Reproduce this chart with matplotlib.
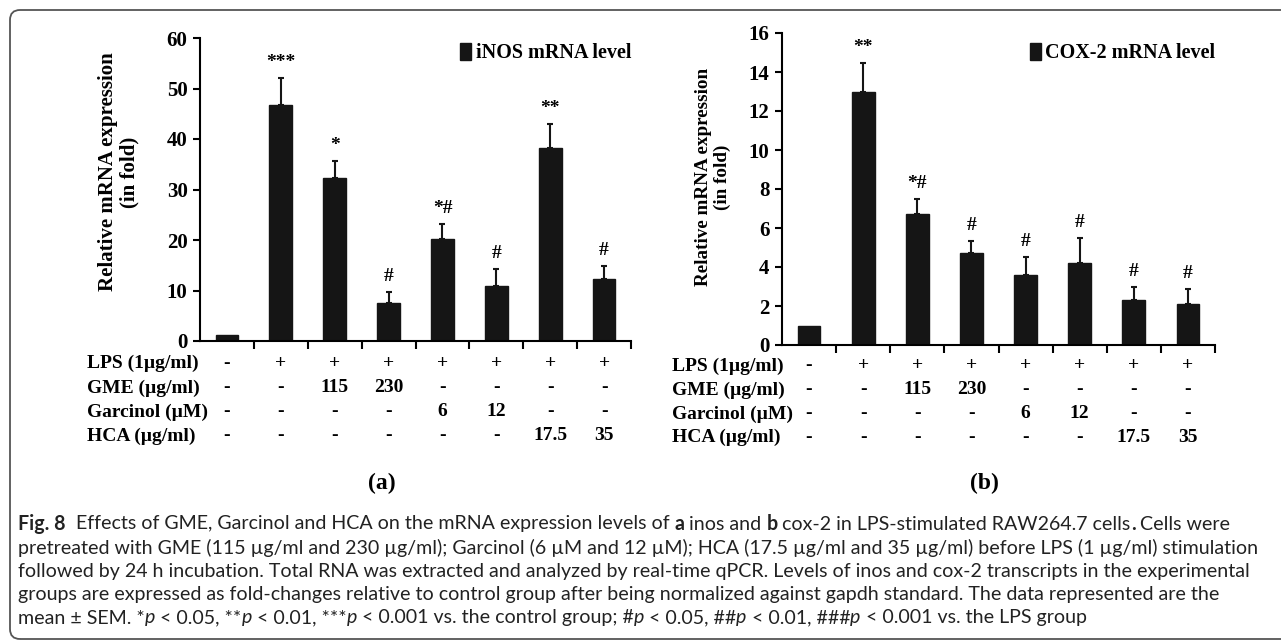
import numpy as np
import matplotlib.pyplot as plt
from matplotlib import font_manager
from matplotlib.patches import FancyBboxPatch
from matplotlib.transforms import blended_transform_factory, IdentityTransform

groups = ['Control', 'LPS', 'GME 115', 'GME 230', 'Garcinol 6', 'Garcinol 12', 'HCA 17.5', 'HCA 35']
inos_mean = [1.2, 46.7, 32.2, 7.5, 20.1, 10.9, 38.3, 12.3]
inos_sem = [0, 5.4, 3.5, 2.3, 3.1, 3.4, 4.7, 2.6]
inos_marks = ['', '***', '*', '#', '*#', '#', '**', '#']
cox2_mean = [1.0, 13.0, 6.7, 4.7, 3.6, 4.2, 2.3, 2.1]
cox2_sem = [0, 1.45, 0.8, 0.65, 0.9, 1.3, 0.7, 0.75]
cox2_marks = ['', '**', '*#', '#', '#', '#', '#', '#']

row_labels = ['LPS (1µg/ml)', 'GME (µg/ml)', 'Garcinol (µM)', 'HCA (µg/ml)']
lps_row = ['-', '+', '+', '+', '+', '+', '+', '+']
gme_row = ['-', '-', '115', '230', '-', '-', '-', '-']
garcinol_row = ['-', '-', '-', '-', '6', '12', '-', '-']
hca_row = ['-', '-', '-', '-', '-', '-', '17.5', '35']
table_rows = [lps_row, gme_row, garcinol_row, hca_row]

W, H = 1281, 642
serif = 'Liberation Serif'
fig = plt.figure(figsize=(W / 100, H / 100), dpi=100)


def panel(box, mean, sem, marks, ymax, ystep, legend, row_y, label_x, ylab, tag):
    x0, x1, ytop, ybot = box
    ax = fig.add_axes([x0 / W, 1 - ybot / H, (x1 - x0) / W, (ybot - ytop) / H])
    x = np.arange(len(mean))
    bars = ax.bar(x, mean, width=0.42, color='#151515', edgecolor='#151515')
    keep = [i for i in x if sem[i] > 0]
    ax.errorbar(x[keep], np.array(mean)[keep], yerr=[np.zeros(len(keep)), np.array(sem)[keep]],
                fmt='none', ecolor='#151515', elinewidth=1.5, capsize=2.5, capthick=1.5)
    for i, m in enumerate(marks):
        if m:
            ax.annotate(m, (i, mean[i] + sem[i]), xytext=(0, 5), textcoords='offset points',
                        ha='center', va='bottom', fontsize=14, fontweight='bold', family=serif)
    ax.set_xlim(-0.5, len(mean) - 0.5)
    ax.set_ylim(0, ymax)
    ax.set_yticks(np.arange(0, ymax + 1, ystep))
    ax.set_xticks(np.arange(0.5, len(mean), 1))
    ax.set_xticklabels([])
    ax.spines[['top', 'right']].set_visible(False)
    for s in ['left', 'bottom']:
        ax.spines[s].set_linewidth(1.5)
    ax.tick_params(axis='y', length=5, width=1.5, labelsize=15, pad=4)
    ax.tick_params(axis='x', length=6, width=1.5)
    for t in ax.get_yticklabels():
        t.set_fontfamily(serif)
        t.set_fontweight('bold')
    ax.set_ylabel('Relative mRNA expression\n(in fold)', fontsize=ylab[2], fontweight='bold',
                  family=serif, linespacing=1.1)
    ax.yaxis.set_label_coords((ylab[0] - x0) / (x1 - x0), (ybot - ylab[1]) / (ybot - ytop))
    ax.legend([bars], [legend], loc='center right', frameon=False,
              bbox_to_anchor=(x1 / W, 1 - 53 / H), bbox_transform=fig.transFigure,
              handlelength=0.55, handleheight=0.9, handletextpad=0.2, borderpad=0,
              borderaxespad=0, prop={'family': serif, 'weight': 'bold', 'size': 14.5})
    tr = blended_transform_factory(ax.transData, fig.transFigure)
    for r, (lab, vals) in enumerate(zip(row_labels, table_rows)):
        yy = 1 - row_y[r] / H
        fig.text(label_x / W, yy, lab, ha='left', va='center', fontsize=14,
                 fontweight='bold', family=serif)
        for i, v in enumerate(vals):
            fig.text(i, yy, v, transform=tr, ha='center', va='center', fontsize=14,
                     fontweight='bold', family=serif)
    fig.text(tag[0] / W, 1 - tag[1] / H, tag[2], ha='center', va='center', fontsize=17,
             fontweight='bold', family=serif)
    return ax


panel((200, 631, 38, 341), inos_mean, inos_sem, inos_marks, 60, 10, 'iNOS mRNA level',
      [363, 388, 412, 436], 87, (139, 172, 15), (382, 483, '(a)'))
panel((782, 1215, 33, 345), cox2_mean, cox2_sem, cox2_marks, 16, 2, 'COX-2 mRNA level',
      [366, 390, 414, 437], 672, (731, 177, 13.8), (984, 483, '(b)'))

# frame around figure and caption
fig.add_artist(FancyBboxPatch((10, 3), 1320, 629, boxstyle='round,pad=0,rounding_size=10',
                              transform=IdentityTransform(), fill=False, edgecolor='#555555',
                              linewidth=1.3))

names = {f.name for f in font_manager.fontManager.ttflist}
cap_font = next((n for n in ['Liberation Sans Narrow', 'Lato', 'Open Sans'] if n in names), 'DejaVu Sans')
R = 'normal'
caption = [
    [('Fig. 8', 'bold', R), ('  Effects of GME, Garcinol and HCA on the mRNA expression levels of ', R, R),
     ('a', 'bold', R), (' inos and ', R, R), ('b', 'bold', R),
     (' cox-2 in LPS-stimulated RAW264.7 cells', R, R), ('.', 'bold', R), (' Cells were', R, R)],
    [('pretreated with GME (115 µg/ml and 230 µg/ml); Garcinol (6 µM and 12 µM); HCA (17.5 µg/ml and 35 µg/ml) before LPS (1 µg/ml) stimulation', R, R)],
    [('followed by 24 h incubation. Total RNA was extracted and analyzed by real-time qPCR. Levels of inos and cox-2 transcripts in the experimental', R, R)],
    [('groups are expressed as fold-changes relative to control group after being normalized against gapdh standard. The data represented are the', R, R)],
    [('mean ± SEM. *', R, R), ('p', R, 'italic'), (' < 0.05, **', R, R), ('p', R, 'italic'),
     (' < 0.01, ***', R, R), ('p', R, 'italic'), (' < 0.001 vs. the control group; #', R, R),
     ('p', R, 'italic'), (' < 0.05, ##', R, R), ('p', R, 'italic'), (' < 0.01, ###', R, R),
     ('p', R, 'italic'), (' < 0.001 vs. the LPS group', R, R)],
]

renderer = fig.canvas.get_renderer()


def advance(s, size, weight, style):
    # width of a piece including leading/trailing spaces
    t1 = fig.text(0, 0, '|' + s + '|', fontsize=size, fontweight=weight, fontstyle=style, family=cap_font)
    t2 = fig.text(0, 0, '||', fontsize=size, fontweight=weight, fontstyle=style, family=cap_font)
    w = t1.get_window_extent(renderer).width - t2.get_window_extent(renderer).width
    t1.remove()
    t2.remove()
    return w


base = 10
w1 = sum(advance(s, base, wt, st) for s, wt, st in caption[1])
cap_size = base * (1260 - 18) / w1
for k, line in enumerate(caption):
    xx = 18
    yy = H - (524 + 23.5 * k)
    for s, wt, st in line:
        fig.text(xx / W, yy / H, s, fontsize=cap_size, fontweight=wt, fontstyle=st,
                 family=cap_font, ha='left', va='center', color='#222222')
        xx += advance(s, cap_size, wt, st)

fig.savefig('out.png', dpi=100)
